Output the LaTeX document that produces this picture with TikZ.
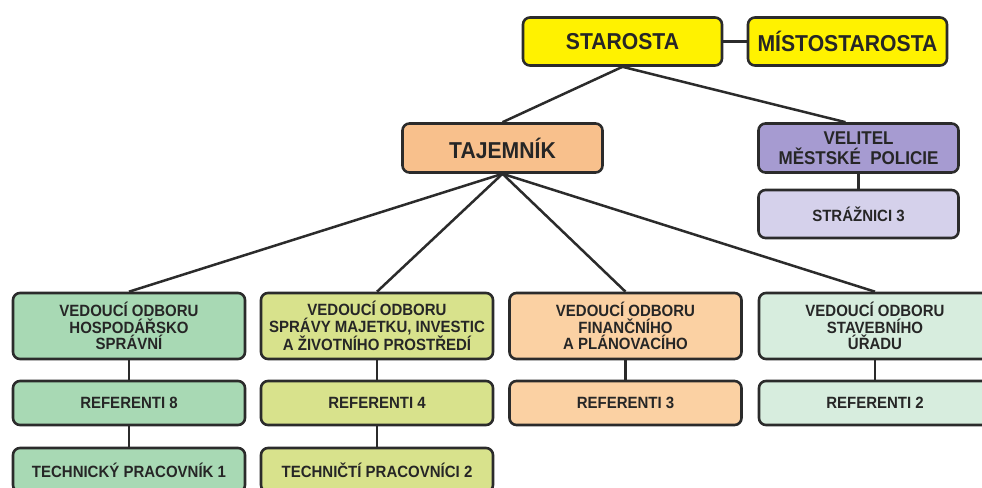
\documentclass[tikz,border=0pt]{standalone}
\usepackage{fontspec}
\setmainfont{Liberation Sans}[FakeStretch=0.92]
\definecolor{bd}{HTML}{2B2B2B}
\definecolor{tx}{HTML}{262626}
\definecolor{cyel}{HTML}{FFF200}
\definecolor{ctaj}{HTML}{F8C08C}
\definecolor{cvel}{HTML}{A69BD1}
\definecolor{cstr}{HTML}{D5D1EB}
\definecolor{cg1}{HTML}{A8D9B4}
\definecolor{cg2}{HTML}{D8E28C}
\definecolor{cg3}{HTML}{FBD1A3}
\definecolor{cg4}{HTML}{D7EDDE}
\tikzset{
  box/.style={draw=bd, line width=2.6pt, rounded corners=7pt, align=center,
    text=tx, inner sep=0pt},
  bigbox/.style={box, minimum width=199pt, minimum height=48pt,
    font=\bfseries\fontsize{23}{26}\selectfont},
  velbox/.style={box, minimum width=200pt, minimum height=49pt,
    font=\bfseries\fontsize{18.5}{20}\selectfont},
  smallbox/.style={box, minimum width=200pt, minimum height=48pt,
    font=\bfseries\fontsize{16.3}{17}\selectfont},
  deptbox/.style={box, minimum width=232pt, minimum height=66pt,
    font=\bfseries\fontsize{16.3}{16.8}\selectfont},
  refbox/.style={box, minimum width=232pt, minimum height=44pt,
    font=\bfseries\fontsize{16.3}{17}\selectfont},
  conn/.style={draw=bd, line width=2.5pt}
}
\begin{document}
\begin{tikzpicture}[x=1pt,y=-1pt]
\useasboundingbox[fill=white] (0,0) rectangle (982,487);
\clip (0,0) rectangle (982,487);
% top level
\node[bigbox, fill=cyel] (starosta) at (622.5,41.5) {STAROSTA};
\node[bigbox, fill=cyel] (misto) at (847.5,41.5) {MÍSTOSTAROSTA};
\node[bigbox, fill=ctaj, minimum width=200pt, minimum height=49pt] (taj) at (502.5,148) {TAJEMNÍK};
\node[velbox, fill=cvel] (vel) at (858.5,148) {VELITEL\\MĚSTSKÉ\ \ POLICIE};
\node[smallbox, fill=cstr] (str) at (858.5,214) {STRÁŽNICI 3};
% departments
\node[deptbox, fill=cg1] (d1) at (129,326) {VEDOUCÍ ODBORU\\HOSPODÁŘSKO\\SPRÁVNÍ};
\node[deptbox, fill=cg2] (d2) at (377,326) {VEDOUCÍ ODBORU\\SPRÁVY MAJETKU, INVESTIC\\A ŽIVOTNÍHO PROSTŘEDÍ};
\node[deptbox, fill=cg3] (d3) at (625.5,326) {VEDOUCÍ ODBORU\\FINANČNÍHO\\A PLÁNOVACÍHO};
\node[deptbox, fill=cg4] (d4) at (875,326) {VEDOUCÍ ODBORU\\STAVEBNÍHO\\ÚŘADU};
\node[refbox, fill=cg1] (r1) at (129,403) {REFERENTI 8};
\node[refbox, fill=cg2] (r2) at (377,403) {REFERENTI 4};
\node[refbox, fill=cg3] (r3) at (625.5,403) {REFERENTI 3};
\node[refbox, fill=cg4] (r4) at (875,403) {REFERENTI 2};
\node[refbox, fill=cg1] (t1) at (129,470) {TECHNICKÝ PRACOVNÍK 1};
\node[refbox, fill=cg2] (t2) at (377,470) {TECHNIČTÍ PRACOVNÍCI 2};
% connectors
\draw[conn] (starosta.east) -- (misto.west);
\draw[conn] (starosta.south) -- (taj.north);
\draw[conn] (starosta.south) -- ([xshift=-13pt]vel.north);
\draw[conn] (vel.south) -- (str.north);
\foreach \d in {d1,d2,d3,d4}{\draw[conn] (taj.south) -- (\d.north);}
\foreach \a/\b in {d1/r1,d2/r2,d3/r3,d4/r4,r1/t1,r2/t2}{\draw[conn] (\a.south) -- (\b.north);}
\end{tikzpicture}
\end{document}
